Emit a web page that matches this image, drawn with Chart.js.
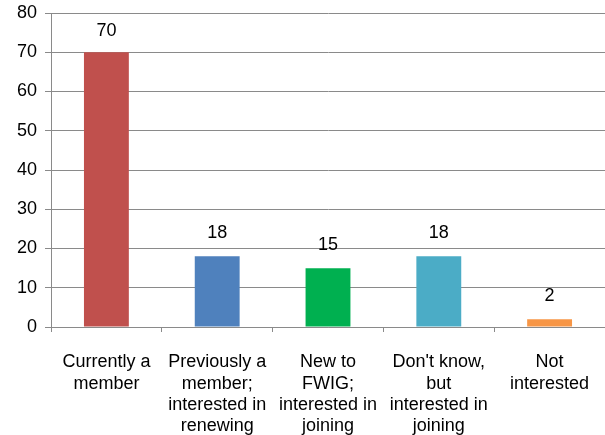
<!DOCTYPE html>
<html>
<head>
<meta charset="utf-8">
<script src="https://cdn.jsdelivr.net/npm/chart.js@4"></script>
<style>
  html, body { margin: 0; padding: 0; background: #fff; }
  #wrap { width: 605px; height: 435px; }
</style>
</head>
<body>
<div id="wrap"><canvas id="resultChart" width="605" height="435"></canvas></div>
<script>
const categories = [
  ['Currently a', 'member'],
  ['Previously a', 'member;', 'interested in', 'renewing'],
  ['New to', 'FWIG;', 'interested in', 'joining'],
  ["Don't know,", 'but', 'interested in', 'joining'],
  ['Not', 'interested']
]
const counts = [70, 18, 15, 18, 2]
const barColors = ['#C0504D', '#4F81BD', '#00B050', '#4BACC6', '#F79646']
const yMin = 0
const yMax = 80
const yStep = 10

const gridColor = '#8a8a8a'
const fontFamily = '"Liberation Sans", Arial, sans-serif'

// numbers above the bars, kept inside the plot area
const valueLabels = {
  id: 'valueLabels',
  afterDatasetsDraw(chart) {
    const ctx = chart.ctx
    const meta = chart.getDatasetMeta(0)
    const minY = chart.chartArea.top + 18
    ctx.save()
    ctx.font = '18px ' + fontFamily
    ctx.fillStyle = '#000'
    ctx.textAlign = 'center'
    ctx.textBaseline = 'middle'
    meta.data.forEach(function(bar, i) {
      ctx.fillText(String(counts[i]), bar.x, Math.max(bar.y - 23.5, minY))
    })
    ctx.restore()
  }
}

let resultChart = document.getElementById('resultChart').getContext('2d')

let myChart = new Chart(resultChart, {
  type: 'bar',
  data: {
    labels: categories,
    datasets: [{
      data: counts,
      backgroundColor: barColors,
      barPercentage: 0.405,
      categoryPercentage: 1
    }]
  },
  options: {
    responsive: false,
    animation: false,
    layout: { padding: { top: 13, right: 0, bottom: 0, left: 0 } },
    plugins: {
      legend: { display: false },
      tooltip: { enabled: false }
    },
    scales: {
      x: {
        grid: {
          display: true,
          drawOnChartArea: false,
          drawTicks: true,
          tickLength: 5,
          color: gridColor,
          offset: true
        },
        border: { color: gridColor, width: 1 },
        ticks: {
          color: '#000',
          font: { family: fontFamily, size: 18, lineHeight: 1.17 },
          padding: 20,
          maxRotation: 0,
          autoSkip: false
        },
        afterFit(scale) {
          scale.height = 108
          scale.paddingLeft = 0
          scale.paddingRight = 0
        }
      },
      y: {
        min: yMin,
        max: yMax,
        grid: {
          color: gridColor,
          tickLength: 6,
          lineWidth: 1
        },
        border: { color: gridColor, width: 1 },
        ticks: {
          stepSize: yStep,
          color: '#000',
          font: { family: fontFamily, size: 18 },
          padding: 8
        },
        afterFit(scale) {
          scale.width = 51
          scale.paddingTop = 0
          scale.paddingBottom = 0
        }
      }
    }
  },
  plugins: [valueLabels]
})
</script>
</body>
</html>
